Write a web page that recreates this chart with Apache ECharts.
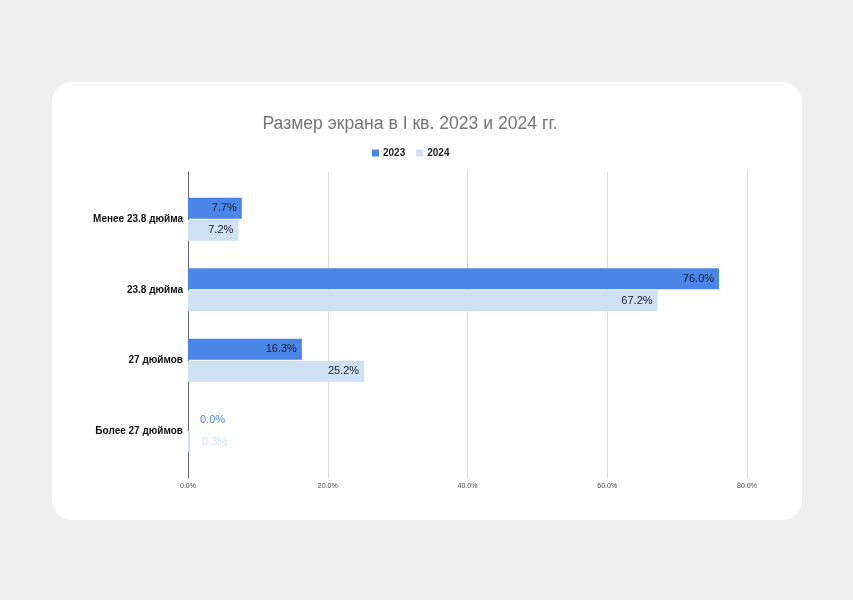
<!DOCTYPE html>
<html><head><meta charset="utf-8">
<script src="https://cdn.jsdelivr.net/npm/echarts@6/dist/echarts.min.js"></script>
<style>html,body{margin:0;padding:0;background:#efefef}#c{width:853px;height:600px}</style>
</head><body><div id="c"></div>
<script>
const categories = ['Менее 23.8 дюйма', '23.8 дюйма', '27 дюймов', 'Более 27 дюймов'];
const seriesNames = ['2023', '2024'];
const values2023 = [7.7, 76.0, 16.3, 0.0];
const values2024 = [7.2, 67.2, 25.2, 0.3];
const xTicks = [0, 20, 40, 60, 80];

const colors = ['#4a86e8', '#cfe2f3'];
const font = 'Liberation Sans, Arial, sans-serif';

function mk(vals, color) {
  return vals.map(v => {
    const small = v < 3;
    return {
      value: v,
      label: small ? {position: 'right', distance: 12, color: color, fontSize: 11}
                   : {position: 'insideRight', distance: 5, color: '#1a1f2e', fontSize: 11}
    };
  });
}

const chart = echarts.init(document.getElementById('c'), null, {renderer: 'canvas'});
chart.setOption({
  backgroundColor: '#efefef',
  animation: false,
  textStyle: {fontFamily: font},
  graphic: [{
    type: 'rect', z: -10, silent: true,
    shape: {x: 52, y: 82, width: 750, height: 438, r: 20},
    style: {fill: '#ffffff'}
  }],
  title: {
    text: 'Размер экрана в I кв. 2023 и 2024 гг.',
    left: 405, top: 110, textAlign: 'center',
    textStyle: {fontFamily: font, fontSize: 17.6, fontWeight: 'normal', color: '#757575'}
  },
  legend: {
    data: seriesNames,
    left: 367, top: 143,
    icon: 'rect', itemWidth: 7, itemHeight: 7, itemGap: 11,
    textStyle: {fontFamily: font, fontSize: 10, fontWeight: 'bold', color: '#222', padding: [0, 0, 0, -1]}
  },
  grid: [
    {left: 188, right: 853 - 747, top: 172, bottom: 600 - 478, containLabel: false},
    {left: 188, right: 853 - 747, top: 184, bottom: 600 - 466, containLabel: false}
  ],
  xAxis: [{
    gridIndex: 0, type: 'value', min: xTicks[0], max: xTicks[xTicks.length - 1], interval: 20,
    axisLine: {show: false}, axisTick: {show: false},
    splitLine: {lineStyle: {color: '#dcdcdc', width: 1}},
    axisLabel: {formatter: v => v.toFixed(1) + '%', fontSize: 7, color: '#444', margin: 5}
  }, {
    gridIndex: 1, type: 'value', min: xTicks[0], max: xTicks[xTicks.length - 1], interval: 20,
    show: false
  }],
  yAxis: [{
    gridIndex: 0, type: 'category', data: categories, inverse: true,
    axisLine: {show: true, lineStyle: {color: '#666', width: 1}},
    axisTick: {show: false}, axisLabel: {show: false}, splitLine: {show: false}
  }, {
    gridIndex: 1, type: 'category', data: categories, inverse: true,
    axisLine: {show: false}, axisTick: {show: false},
    axisLabel: {fontFamily: font, fontSize: 10, fontWeight: 'bold', color: '#111', margin: 5}
  }],
  series: [{
    name: seriesNames[0], type: 'bar', xAxisIndex: 1, yAxisIndex: 1,
    data: mk(values2023, colors[0]), barWidth: 21, barGap: '5%',
    itemStyle: {color: colors[0]},
    label: {show: true, formatter: p => p.value.toFixed(1) + '%', fontFamily: font}
  }, {
    name: seriesNames[1], type: 'bar', xAxisIndex: 1, yAxisIndex: 1,
    data: mk(values2024, colors[1]), barWidth: 21, barGap: '5%',
    itemStyle: {color: colors[1]},
    label: {show: true, formatter: p => p.value.toFixed(1) + '%', fontFamily: font}
  }]
});
</script></body></html>
